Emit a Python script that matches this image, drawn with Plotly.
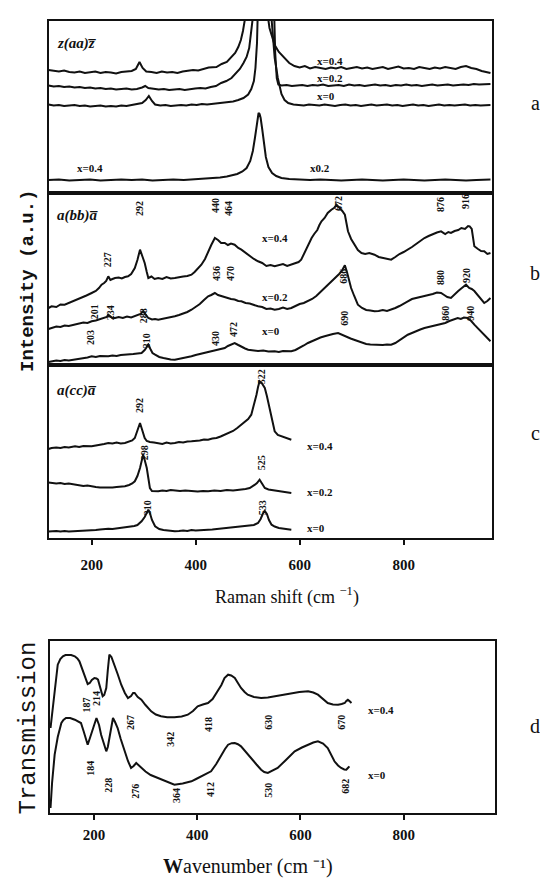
import plotly.graph_objects as go

# ---------------- data (wavenumber cm^-1, intensity a.u.) ----------------
# Panel a: z(aa)z-bar
A_X04 = [(117,123),(127,122),(137,121.5),(147,122.5),(157,121),(167,120.5),(177,121.5),(187,120),(197,121),(207,121.5),(217,120),(227,121),(237,120.5),(247,119.5),(257,121),(267,121.5),(277,122),(285,124),(292,131),(298,125),(305,121.5),(315,121),(325,120),(335,121.5),(345,120.5),(355,121),(365,120),(375,121.5),(385,122),(395,123),(405,122.5),(415,124),(425,125.5),(440,126),(450,129),(460,131),(469,136),(476,140),(482,146),(487,153),(491,162),(495,172),(500,190),(510,260),(520,380),(530,300),(538,180),(542,165),(546,158),(552,148),(560,141),(571,135),(580,130),(590,127),(600,125.5),(610,127),(620,124.5),(630,126),(640,125),(650,124),(660,125.5),(670,124.5),(680,126),(690,124),(700,125),(710,126),(720,124.5),(730,125.5),(740,124),(750,125),(760,126),(770,124),(780,125),(790,126.5),(800,124.5),(810,125),(820,124),(830,126),(840,125),(850,124),(860,125.5),(870,124.5),(880,126),(890,125),(900,124),(910,126),(920,127),(930,125),(940,124),(950,122),(960,121),(967,120)]
A_X02 = [(117,107.5),(127,106.5),(137,107),(147,106),(157,106.5),(167,105.5),(177,106),(187,105),(197,105.5),(207,104.5),(217,105),(227,104),(237,104.5),(247,103.5),(257,104),(267,104.5),(277,103.5),(287,104),(297,105.5),(303,107),(309,105),(319,104),(329,103.5),(339,104),(349,103),(359,103.5),(369,104),(379,103),(389,104),(399,104.5),(409,105),(419,104.5),(429,106),(439,107),(449,110),(459,112),(469,115),(477,119),(485,124),(492,130),(498,136),(503,145),(507,160),(511,180),(520,400),(540,400),(550,200),(553,140),(556,115),(559,108.5),(565,107.5),(575,108),(585,107),(595,107.5),(605,108),(615,107),(625,108),(635,107.5),(645,108.5),(655,107),(665,107.5),(675,108),(685,107),(695,108.5),(705,107.5),(715,108),(725,107),(735,107.5),(745,108.5),(755,107.5),(765,108),(775,107),(785,108),(795,107.5),(805,108.5),(815,107.5),(825,108),(835,107),(845,108),(855,108.5),(865,107.5),(875,108),(885,108.5),(895,107.5),(905,108),(915,108.5),(925,108),(935,109),(945,108.5),(955,109),(967,109)]
A_X0 = [(117,88.5),(127,87.5),(137,88),(147,87),(157,87.5),(167,88),(177,87),(187,87.5),(197,86.5),(207,87),(217,87.5),(227,86.5),(237,87),(247,86.5),(257,87.5),(267,87),(277,88),(287,88.5),(297,90),(304,93),(310,97),(316,92),(322,88.5),(332,87.5),(342,88),(352,87),(362,87.5),(372,88),(382,87.5),(392,88.5),(402,88),(412,89),(422,88.5),(432,89),(442,89.5),(452,90),(462,90.5),(472,91.5),(482,93),(492,95),(501,98.5),(507,104),(512,112),(515,125),(518,150),(520,200),(530,400),(542,200),(546,172),(549,150),(552,135),(558,115),(565,99),(571,93),(578,90),(588,88.5),(598,88),(608,87.5),(618,88.5),(628,88),(638,87.5),(648,88.5),(658,88),(668,87),(678,88),(688,88.5),(698,87.5),(708,88),(718,87),(728,88),(738,88.5),(748,87.5),(758,88),(768,88.5),(778,87.5),(788,88),(798,87),(808,88),(818,88.5),(828,87.5),(838,88),(848,87),(858,88),(868,88.5),(878,87.5),(888,88),(898,87.5),(908,88),(918,88.5),(928,87.5),(938,88),(948,87.5),(958,88),(967,88)]
A_X04_SCALED = [(117,13),(137,13.5),(157,12.5),(177,13),(197,13.5),(217,12.5),(237,13),(257,13.5),(277,13),(297,13.5),(317,12.5),(337,13),(357,13.5),(377,13),(397,13.5),(417,14),(432,14.5),(447,15.5),(460,16.5),(470,17.5),(480,19),(490,21.5),(498,25),(505,32),(510,42),(514,55),(517,67),(519,75),(521,80),(523,79),(525,75),(528,64),(531,50),(535,36),(540,26),(547,20),(555,17),(565,15),(580,14),(600,13.5),(620,13),(640,13.5),(660,13),(680,12.5),(700,13),(720,13.5),(740,13),(760,12.5),(780,13),(800,13.5),(820,13),(840,12.5),(860,13),(880,13.5),(900,13),(920,12.5),(940,13),(967,13.5)]

# Panel b: a(bb)a-bar
B_X04 = [(117,57),(123,58.7),(132,58),(140,60.5),(148,60.3),(156,62),(164,63.5),(174,65.3),(182,67),(190,69.5),(200,72),(208,74),(214,77),(219,80.3),(224,82),(228,84),(232,88.7),(236,85),(240,86),(245,87),(252,87.5),(258,86.5),(264,88),(270,88.7),(276,91),(283,97),(288,105),(293,115.3),(298,108),(302,102),(306,93),(309,87),(315,88.5),(321,86),(328,87),(336,86),(344,88),(352,86.5),(360,87),(368,88),(376,88.5),(384,89),(392,90.3),(398,93),(405,97),(411,100.3),(418,106),(424,113.7),(430,120),(437,127),(443,125),(449,122),(456,122),(462,120),(468,121.5),(475,120.3),(482,117),(488,115.3),(496,112),(504,109),(512,106),(520,103.7),(528,102),(536,99),(544,100),(552,98.7),(560,99.5),(568,101),(576,99),(584,100.3),(592,102),(598,103),(603,105.3),(609,112),(614,118),(618,122),(623,127),(628,131),(634,135),(638,140),(642,143.7),(648,147),(654,152),(661,155.3),(666,157),(671,160.3),(677,157),(682,154),(687,150.3),(690,142),(693,133.7),(699,126),(706,120.3),(712,115),(719,112),(726,111),(734,112),(744,110.3),(752,108),(760,107),(768,106),(776,105.3),(784,108),(792,111),(800,113),(808,115.3),(816,118),(824,121),(832,124),(840,127),(848,129),(856,131),(864,132.5),(872,133.7),(880,131),(886,133),(891,132),(898,134),(905,135),(911,137),(918,136),(924,139),(927,138.7),(931,136),(936,118.7),(943,116),(949,114),(955,113.7),(961,111),(967,112)]
B_X02 = [(117,36),(123,37),(132,38.5),(140,38),(148,39.5),(156,39),(168,40.3),(176,41),(184,42.5),(192,42),(200,43.7),(208,44.5),(216,46),(224,47),(229,48),(232,50.3),(236,49),(240,47),(245,47),(252,48),(260,47),(268,48.5),(276,47.5),(283,48.7),(289,49.5),(294,51),(299,53.7),(304,50),(309,47),(316,45.5),(322,46),(328,45.3),(336,46),(344,47),(352,48),(360,48.7),(368,50),(376,51.5),(384,53),(392,55.3),(400,58),(408,61),(416,65),(424,68.7),(430,70),(437,72),(443,70),(449,69),(456,68),(462,67),(468,66),(475,65.5),(482,64),(488,63.7),(496,62),(504,61.5),(512,60),(520,58.7),(528,58),(536,56),(544,56.5),(552,55.3),(560,56),(568,57.5),(576,56),(584,57),(592,59),(600,61),(608,62),(616,63.7),(624,66),(632,69),(640,73),(648,77),(656,81),(664,84),(670,88),(676,91),(681,94),(687,99.7),(691,93),(695,85),(699,77),(705,69),(712,60.3),(720,57),(728,55),(736,54.5),(744,53.7),(752,54),(760,55),(768,54),(776,55.3),(784,57),(792,59),(800,61),(808,63.7),(816,66),(824,67),(832,68),(840,68.7),(848,70),(856,71),(864,72.5),(872,72),(878,70),(884,68),(891,67),(898,71),(905,74),(912,77),(920,80.3),(926,77),(931,76),(936,74),(942,70),(948,66),(955,62),(961,64),(967,67)]
B_X0 = [(117,3),(123,3.7),(132,4.5),(140,4),(148,5),(156,4.5),(168,5.3),(176,6),(184,7),(192,7.5),(200,8.7),(208,8),(216,9),(224,8.5),(232,8.7),(240,9.5),(248,9),(256,10),(264,10.3),(272,10),(280,11),(288,11.5),(296,12),(302,15),(306,18),(309,20.3),(313,16),(317,12),(322,10.3),(330,8),(338,7),(346,6),(352,5.5),(360,5.3),(368,6),(376,7),(384,8),(392,8.7),(400,10),(408,11),(416,12.5),(424,13.7),(432,14.5),(440,15),(448,16),(456,17),(462,19),(468,20.5),(475,22),(482,20),(488,18),(495,16.5),(501,15.3),(510,15),(520,14),(530,14.5),(540,13.5),(552,13.7),(560,13),(568,14),(576,13.5),(584,13.7),(592,15),(600,17),(608,19.5),(616,22),(624,24),(632,26),(640,27.5),(648,28.7),(656,30),(664,31),(674,32),(682,30),(690,28),(698,26.5),(706,25),(712,23.7),(720,22.5),(728,21),(736,20.5),(744,20.3),(752,19.5),(760,20),(768,20.5),(776,20.3),(784,22),(792,25),(800,27.5),(808,30.3),(816,32),(824,34),(832,35.5),(840,37),(848,38),(856,39),(864,40),(872,40.3),(880,42),(888,44),(896,45.5),(904,47),(910,46),(916,47.5),(923,47),(930,44),(936,40.3),(942,37),(948,34),(955,30.3),(961,27),(967,23.7)]

# Panel c: a(cc)a-bar
C_X04 = [(117,89),(123,90),(132,90.5),(140,90),(148,91),(156,90.5),(168,91.7),(176,91),(184,92),(192,91.5),(200,91.7),(208,92.5),(216,93),(224,94),(232,95),(240,94.5),(248,95.5),(256,94.5),(264,95),(272,96),(278,97.5),(283,100),(287,106),(290,112),(293,115),(296,110),(299,104),(302,100),(306,97),(312,96),(320,95.5),(328,95),(336,94),(344,95.5),(352,94.5),(360,95),(368,96),(376,95.5),(384,96.5),(392,96.7),(400,97),(408,97.5),(416,98.5),(424,98.3),(432,99.5),(440,100),(448,101.5),(456,103.3),(464,105),(472,107),(480,110),(488,113.3),(495,116),(501,119),(507,123.3),(512,132),(517,143.3),(520,151),(523,156.7),(527,155),(530,152),(533,150),(537,142),(541,133),(546,123.3),(549,114),(552,106.7),(558,103),(565,101.7),(572,100),(578,99.5),(584,98.3)]
C_X02 = [(117,55.5),(123,55),(132,54.5),(140,55),(148,54),(156,54.5),(168,53.3),(176,53),(184,52),(192,52.5),(200,51.5),(208,51),(216,50.5),(224,50.5),(232,50),(240,50.5),(248,51),(256,51.5),(264,51.7),(272,53),(278,54.5),(283,56.7),(288,62),(293,70),(296,77),(299,83.3),(302,78),(306,70),(309,60),(312,50),(316,47),(322,46.5),(328,46.7),(336,47.5),(344,47),(352,48),(360,47.7),(370,47),(380,47.5),(392,47),(404,46.5),(414,47),(424,46.7),(436,47.5),(448,47),(460,48),(472,47.5),(480,48),(488,48.3),(496,49),(504,50),(510,51.5),(514,53.3),(518,55),(521,57),(523,58.3),(527,55),(530,52),(533,50),(540,48.5),(546,48),(552,47.3),(560,46.5),(568,46),(576,45.5),(584,45)]
C_X0 = [(117,6.5),(123,6.7),(132,7),(140,6.5),(148,7),(156,6.5),(168,6.7),(176,7),(184,7.5),(192,7),(200,7.5),(208,8),(216,8.5),(224,9),(232,9.3),(240,9),(248,9.5),(256,10),(264,10.5),(272,11),(277,11.7),(282,12),(288,13),(296,16.7),(302,21),(306,26),(309,28.3),(312,25),(316,18),(322,11.7),(330,9),(338,8),(346,7.5),(352,7),(360,6.7),(368,7),(376,7.5),(384,7),(392,8),(400,7.5),(408,8),(416,8.5),(424,8.3),(432,8.5),(440,9),(448,9.5),(456,10),(464,10.5),(472,10.5),(480,11),(488,11.7),(496,12),(504,12.5),(512,13),(520,15),(525,19),(529,24),(533,27),(537,24),(541,18),(546,13.3),(552,11.5),(560,10),(568,9.5),(576,9),(584,8.3)]

# Panel d: IR transmission
D_X04 = [(116,85),(120,105),(124,125),(127,138),(130,148.3),(135,154),(140,156.7),(145,158),(150,158.3),(156,158),(163,156.7),(168,154.5),(172,151.7),(177,145),(182,138.3),(185,133),(188,129),(192,130),(196,133),(201,135),(205,134.5),(208,133.3),(212,126),(217,116.7),(220,118),(224,125),(227,143),(230,158.3),(234,156),(240,148.3),(246,139),(253,128.3),(260,120),(266,115),(272,117),(276,120),(279,120),(285,116),(292,113.3),(300,108),(311,101.7),(320,98.5),(330,96.7),(342,95.7),(356,95.7),(370,96.5),(382,98.3),(392,102),(401,106.7),(411,108.5),(421,110),(430,114),(440,121.7),(447,128),(453,135),(457,137.5),(460,138.3),(466,137.5),(473,135),(479,130),(485,125),(492,121),(498,118.3),(510,116),(524,115),(537,115.5),(550,116.7),(566,118.5),(582,120),(598,121),(615,121.7),(625,120.5),(634,118.3),(644,114),(653,110),(663,108.5),(673,108.3),(680,109),(686,110),(689,112),(692,113.3),(695,112),(699,110)]
D_X0 = [(116,5),(119,30),(124,58.3),(130,76),(137,90),(141,93),(146,95),(154,95),(163,93.3),(169,92),(175,90),(180,82),(184,74),(188,68.3),(193,76),(198,85),(202,92),(205,95),(210,88),(214,78.3),(219,70),(224,61.7),(227,66),(230,75),(234,87),(237,95),(241,91),(246,85),(252,74),(259,61.7),(266,52),(272,45),(277,47),(282,50),(287,47.5),(292,45),(300,41.5),(310,38),(324,35),(340,31),(356,28.3),(372,29.5),(389,31.7),(398,34),(408,36.7),(418,39),(427,41.7),(437,49),(447,58.3),(454,64),(460,68.3),(467,69.8),(473,70),(479,68.8),(485,66.7),(495,61),(505,55),(515,48.5),(524,43.3),(530,41),(537,40),(546,42),(556,45),(572,53),(589,61.7),(603,65.5),(615,68.3),(625,70.5),(634,71.7),(644,69.5),(653,65),(660,58),(666,51.7),(673,47.5),(679,45),(685,43.5),(689,43.3),(692,45),(695,46.7)]

# Peak labels (text, wavenumber, intensity)
LAB_B = [("440",437,160),("464",462,157),("672",674,161),("876",870,160),("916",918,164),
         ("292",291,157),("227",230,105),("436",439,92),("470",466,92),("686",683,89),
         ("880",870,87),("920",920,89),("201",205,53),("234",236,52),("288",299,49),
         ("860",879,52),("940",927,52),("203",197,27),("310",305,24),("430",437,27),
         ("472",472,35),("690",685,47)]
LAB_C = [("292",291,133),("522",526,161),("298",301,85),("525",526,75),("310",307,30),("533",528,30)]
LAB_D = [("187",184,108),("214",204,115),("267",270,90),("342",347,74),("418",421,89),
         ("630",537,91),("670",678,91),("184",192,45),("228",227,28),("276",279,22),
         ("364",359,18),("412",425,23),("530",537,23),("682",686,27)]
# Series labels (text, wavenumber, intensity)
SER_A = [("x=0.4",630,132),("x=0.2",630,115),("x=0",630,97),("x=0.4",168,25),("x0.2",616,25)]
SER_B = [("x=0.4",524,127),("x=0.2",524,68),("x=0",524,34)]
SER_C = [("x=0.4",610,92),("x=0.2",610,46),("x=0",610,10)]
SER_D = [("x=0.4",728,103),("x=0",728,38)]

TICKS = [200, 400, 600, 800]

# ---------------- layout ----------------
W, H = 548, 879
def px(v): return v / W
def py(v): return 1 - v / H

XD = [px(40.5), px(483.5)]
XD4 = [px(42), px(487)]
PANELS = {"a": (13, 185), "b": (185, 357), "c": (357, 530), "d": (633, 805)}

fig = go.Figure()
LINE = dict(color="#111", width=2)

def add_curve(data, ax):
    xs = [p[0] for p in data]; ys = [p[1] for p in data]
    fig.add_trace(go.Scatter(x=xs, y=ys, mode="lines", line=LINE,
                             xaxis="x" + ax, yaxis="y" + ax, hoverinfo="skip"))

for d in (A_X04, A_X02, A_X0, A_X04_SCALED): add_curve(d, "")
for d in (B_X04, B_X02, B_X0): add_curve(d, "2")
for d in (C_X04, C_X02, C_X0): add_curve(d, "3")
for d in (D_X04, D_X0): add_curve(d, "4")

SERIF = "Liberation Serif"
ann = []
def peak_labels(labs, ax):
    for t, x, y in labs:
        ann.append(dict(text="<b>%s</b>" % t, x=x, y=y, xref="x" + ax, yref="y" + ax,
                        showarrow=False, textangle=-90, xanchor="center", yanchor="middle",
                        font=dict(family=SERIF, size=10, color="#111")))
def ser_labels(labs, ax):
    for t, x, y in labs:
        ann.append(dict(text="<b>%s</b>" % t, x=x, y=y, xref="x" + ax, yref="y" + ax,
                        showarrow=False, xanchor="left", yanchor="middle",
                        font=dict(family=SERIF, size=11, color="#111")))
peak_labels(LAB_B, "2"); peak_labels(LAB_C, "3"); peak_labels(LAB_D, "4")
ser_labels(SER_A, ""); ser_labels(SER_B, "2"); ser_labels(SER_C, "3"); ser_labels(SER_D, "4")

# geometry descriptors
for t, ax, yv in [("z(aa)z\u0305", "", 150), ("a(bb)a\u0305", "2", 150), ("a(cc)a\u0305", "3", 148)]:
    ann.append(dict(text="<b><i>%s</i></b>" % t, x=130, y=yv, xref="x" + ax, yref="y" + ax,
                    showarrow=False, xanchor="left", yanchor="middle",
                    font=dict(family=SERIF, size=15, color="#111")))

def paper_text(text, x, y, font, angle=0, yanchor="middle"):
    ann.append(dict(text=text, x=px(x), y=py(y), xref="paper", yref="paper",
                    xanchor="center", yanchor=yanchor, showarrow=False,
                    textangle=angle, font=font))

# panel letters
for t, yv in [("a", 95), ("b", 265), ("c", 425), ("d", 718)]:
    paper_text(t, 527, yv, dict(family=SERIF, size=20, color="#111"))

# axis titles
paper_text("Raman shift (cm <sup>\u22121</sup>)", 279, 588,
           dict(family=SERIF, size=18, color="#111"))
paper_text("<b>W</b>avenumber (cm \u207b\u00b9)", 240, 858,
           dict(family=SERIF, size=20, color="#111"))
paper_text("<b>Intensity (a.u.)</b>", 20, 273,
           dict(family="Liberation Mono", size=19, color="#111"), -90)
paper_text("Transmission", 19.5, 720,
           dict(family="Liberation Mono", size=24, color="#111"), -90)

def xax(domain, rng, anchor, ticks=False, standoff=8):
    d = dict(domain=domain, range=rng, anchor=anchor, showline=True, mirror=True,
             linecolor="#111", linewidth=2, showgrid=False, zeroline=False)
    if ticks:
        d.update(tickvals=TICKS, ticks="outside", ticklen=5, tickwidth=2, tickcolor="#111",
                 showticklabels=True, ticklabelstandoff=standoff,
                 tickfont=dict(family=SERIF, size=15, color="#111", weight="bold"))
    else:
        d.update(showticklabels=False, ticks="")
    return d

def yax(panel, anchor):
    t, b = PANELS[panel]
    return dict(domain=[py(b), py(t)], range=[0, b - t], anchor=anchor, showline=True,
                mirror=True, linecolor="#111", linewidth=2, showgrid=False, zeroline=False,
                showticklabels=False, ticks="")

XR = [117, 969]
XR4 = [115, 977]
fig.update_layout(
    width=W, height=H, margin=dict(l=0, r=0, t=0, b=0), autosize=False,
    paper_bgcolor="white", plot_bgcolor="white", showlegend=False,
    xaxis=xax(XD, XR, "y"), xaxis2=xax(XD, XR, "y2"), xaxis3=xax(XD, XR, "y3", True, 7),
    xaxis4=xax(XD4, XR4, "y4", True, 2),
    yaxis=yax("a", "x"), yaxis2=yax("b", "x2"), yaxis3=yax("c", "x3"),
    yaxis4=yax("d", "x4"),
    annotations=ann,
)

fig.write_html("out.html")
